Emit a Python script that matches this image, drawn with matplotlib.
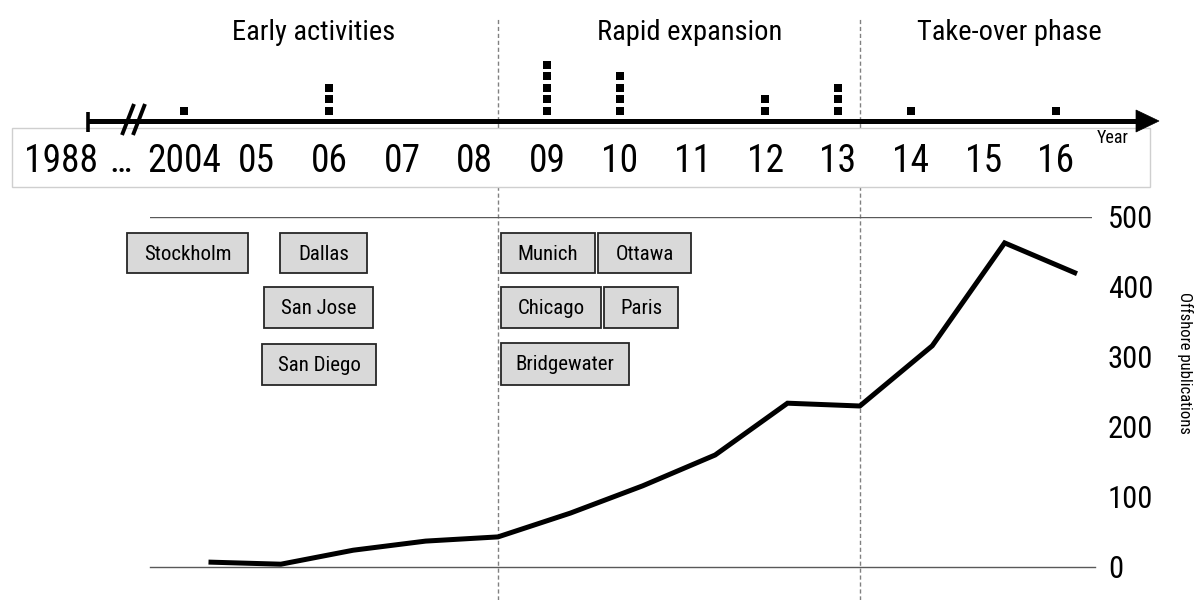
import matplotlib
matplotlib.use('Agg')
import matplotlib.pyplot as plt
from matplotlib.patches import Rectangle, Polygon

# ---------------- data ----------------
years = [2004, 2005, 2006, 2007, 2008, 2009, 2010, 2011, 2012, 2013, 2014, 2015, 2016]
publications = [7, 4, 24, 37, 43, 77, 116, 160, 234, 230, 316, 463, 419]
year_labels = ['2004', '05', '06', '07', '08', '09', '10', '11', '12', '13', '14', '15', '16']
event_years = [2004, 2006, 2009, 2010, 2012, 2013, 2014, 2016]
event_counts = [1, 3, 5, 4, 2, 3, 1, 1]
phases = ['Early activities', 'Rapid expansion', 'Take-over phase']
phase_bounds = [2008, 2013]
cities = ['Stockholm', 'Dallas', 'San Jose', 'San Diego',
          'Munich', 'Ottawa', 'Chicago', 'Paris', 'Bridgewater']
y_ticks = [0, 100, 200, 300, 400, 500]
y_label = 'Offshore publications'

# ---------------- layout (pixels) ----------------
W, H = 1194, 600
NARROW = ['Roboto Condensed', 'Liberation Sans', 'DejaVu Sans']

city_boxes = {  # x0, y0, x1, y1 in figure pixels (top-left origin)
    'Stockholm': (127, 233, 248, 273),
    'Dallas': (280, 233, 367, 273),
    'San Jose': (264, 287, 373, 328),
    'San Diego': (262, 344, 376, 385),
    'Munich': (501, 233, 595, 273),
    'Ottawa': (598, 233, 691, 273),
    'Chicago': (501, 287, 601, 328),
    'Paris': (604, 287, 678, 328),
    'Bridgewater': (501, 343, 629, 385),
}
phase_x = [314, 690, 1009]

fig = plt.figure(figsize=(W / 100, H / 100), dpi=100)

# ---------------- lower line chart ----------------
left_px, right_px, bot_px, top_px = 150, 1092, 567, 217
ax = fig.add_axes([left_px / W, (H - bot_px) / H, (right_px - left_px) / W, (bot_px - top_px) / H])
ppy_low = (1077 - 208.5) / 12.0
ax.set_xlim(2004 - (208.5 - left_px) / ppy_low, 2004 + (right_px - 208.5) / ppy_low)
ax.set_ylim(0, 500)
for s in ax.spines.values():
    s.set_visible(False)
ax.patch.set_alpha(0)
ax.set_xticks([])
ax.yaxis.tick_right()
ax.set_yticks(y_ticks)
ax.set_yticklabels([str(v) for v in y_ticks], fontsize=22, family=NARROW)
ax.tick_params(axis='y', length=0, pad=11.5)
ax.axhline(0, color='#595959', lw=1.0, xmax=1.003, clip_on=False)
ax.axhline(500, color='#595959', lw=1.0)
ax.plot(years, publications, color='black', lw=3.6, solid_joinstyle='miter',
        solid_capstyle='butt', zorder=3)
units_per_px = 500 / (bot_px - top_px)
for b in phase_bounds:
    ax.plot([b, b], [-(H - bot_px) * units_per_px, (bot_px - 18) * units_per_px],
            color='#808080', lw=1.0, linestyle=(0, (3, 2)), clip_on=False, zorder=1)

# ---------------- overlay in pixel coordinates ----------------
axp = fig.add_axes([0, 0, 1, 1])
axp.set_xlim(0, W)
axp.set_ylim(H, 0)
axp.axis('off')
axp.patch.set_alpha(0)

# year label box
axp.add_patch(Rectangle((12, 128), 1150 - 12, 187 - 128, facecolor='white',
                        edgecolor='#cfcfcf', lw=1.0, zorder=1))
# timeline axis
axp.plot([88, 1140], [121, 121], color='black', lw=3.6, solid_capstyle='butt', zorder=3)
axp.add_patch(Polygon([(1136, 110), (1159, 121), (1136, 132)], closed=True,
                      facecolor='black', edgecolor='black', lw=0.5, zorder=3))
axp.plot([88, 88], [112, 132], color='black', lw=2.6, solid_capstyle='butt', zorder=3)
for dx in (0, 11):
    axp.plot([122 + dx, 134 + dx], [135, 104], color='black', lw=2.8,
             solid_capstyle='butt', zorder=3)
axp.text(61, 172, '1988', fontsize=27, family=NARROW, ha='center', va='baseline', zorder=4)
axp.text(120, 172, '\u2026', fontsize=27, family=NARROW, ha='center', va='baseline', zorder=4)
axp.text(1113, 143, 'Year', fontsize=13, family=NARROW, ha='center', va='baseline', zorder=4)

# phase headings
for name, x in zip(phases, phase_x):
    axp.text(x, 40, name, fontsize=20.5, family=NARROW, ha='center', va='baseline')

# city boxes
for c in cities:
    x0, y0, x1, y1 = city_boxes[c]
    axp.add_patch(Rectangle((x0, y0), x1 - x0, y1 - y0, facecolor='#d9d9d9',
                            edgecolor='#262626', lw=1.3, zorder=2))
    axp.text((x0 + x1) / 2, (y0 + y1) / 2 + 1, c, fontsize=15, family=NARROW,
             ha='center', va='center', zorder=3)

# y-axis title
axp.text(1185, 363, y_label, fontsize=12, family=NARROW, rotation=270,
         ha='center', va='center')

# ---------------- top timeline (year coordinates) ----------------
axt = fig.add_axes([0, 0, 1, 1])
ppy_top = (1056 - 184) / 12.0
axt.set_xlim(2004 - 184 / ppy_top, 2004 + (W - 184) / ppy_top)
axt.set_ylim(H, 0)
axt.axis('off')
axt.patch.set_alpha(0)
for yr, lab in zip(years, year_labels):
    axt.text(yr, 172, lab, fontsize=27, family=NARROW, ha='center', va='baseline')
for yr, n in zip(event_years, event_counts):
    ys = [110.5 - 11.5 * k for k in range(n)]
    axt.scatter([yr] * n, ys, marker='s', s=30, color='black', linewidths=0)

fig.savefig('out.png', dpi=100)
